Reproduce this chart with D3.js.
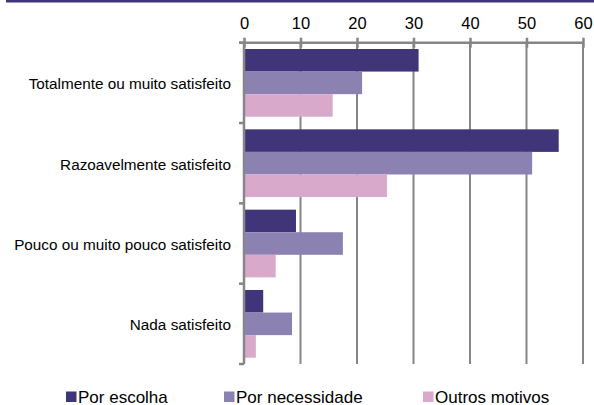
<!DOCTYPE html>
<html lang="pt">
<head>
<meta charset="utf-8">
<title>Satisfação</title>
<script src="https://d3js.org/d3.v7.min.js"></script>
<style>
  body { margin: 0; background: #fff; }
  svg { display: block; font-family: "Liberation Sans", Arial, sans-serif; }
</style>
</head>
<body>
<div id="chart"></div>
<script>
// data
var categories = ["Totalmente ou muito satisfeito", "Razoavelmente satisfeito",
                  "Pouco ou muito pouco satisfeito", "Nada satisfeito"];
var seriesNames = ["Por escolha", "Por necessidade", "Outros motivos"];
var porEscolha = [30.9, 55.7, 9.2, 3.4];
var porNecessidade = [20.9, 51.0, 17.5, 8.5];
var outrosMotivos = [15.7, 25.3, 5.6, 2.1];
var tickValues = [0, 10, 20, 30, 40, 50, 60];
var colors = ["#403578", "#8c82b2", "#d9a9cb"];

var width = 594, height = 405;
var plotLeft = 244, plotRight = 583, plotTop = 42.7, plotBottom = 364;

var svg = d3.select("#chart").append("svg")
  .attr("width", width)
  .attr("height", height);

// thin band at the very top
svg.append("rect")
  .attr("x", 6).attr("y", 0)
  .attr("width", width - 6).attr("height", 2.5)
  .attr("fill", "#403578");

var x = d3.scaleLinear().domain([0, 60]).range([plotLeft, plotRight]);

var y = d3.scaleBand().domain(categories)
  .range([plotTop, plotBottom])
  .paddingInner(0.157)
  .paddingOuter(0.0785);

var ySub = d3.scaleBand().domain(seriesNames).range([0, y.bandwidth()]);

var values = [porEscolha, porNecessidade, outrosMotivos];

// vertical gridlines
svg.append("g").selectAll("line")
  .data(tickValues.slice(1))
  .enter().append("line")
    .attr("x1", function(d) { return x(d); })
    .attr("x2", function(d) { return x(d); })
    .attr("y1", plotTop)
    .attr("y2", plotBottom)
    .attr("stroke", "#868686")
    .attr("stroke-width", 2);

// bars
seriesNames.forEach(function(name, s) {
  svg.append("g").selectAll("rect")
    .data(categories)
    .enter().append("rect")
      .attr("x", x(0) + 1)
      .attr("y", function(c) { return y(c) + ySub(name); })
      .attr("width", function(c, i) { return x(values[s][i]) - x(0) - 1; })
      .attr("height", ySub.bandwidth())
      .attr("fill", colors[s]);
});

// top axis
var xAxis = d3.axisTop(x).tickValues(tickValues).tickSize(5).tickSizeOuter(0);
var gx = svg.append("g").attr("transform", "translate(0," + plotTop + ")").call(xAxis);
gx.select(".domain").attr("stroke", "#868686").attr("stroke-width", 2.5)
  .attr("d", "M" + (plotLeft - 5) + ",0H" + plotRight);
gx.selectAll(".tick line").attr("stroke", "#868686").attr("stroke-width", 2.5)
  .attr("y1", -5).attr("y2", 5);
gx.selectAll(".tick text")
  .attr("y", -13.5)
  .attr("dy", 0)
  .attr("fill", "#000")
  .style("font-size", "16.5px")
  .style("font-family", "Liberation Sans, Arial, sans-serif");

// left axis line with ticks at category boundaries
svg.append("line")
  .attr("x1", plotLeft).attr("x2", plotLeft)
  .attr("y1", plotTop).attr("y2", plotBottom)
  .attr("stroke", "#868686").attr("stroke-width", 2.5);

var step = y.step();
svg.append("g").selectAll("line")
  .data(d3.range(categories.length + 1))
  .enter().append("line")
    .attr("x1", plotLeft - 5).attr("x2", plotLeft)
    .attr("y1", function(i) { return plotTop + i * step; })
    .attr("y2", function(i) { return plotTop + i * step; })
    .attr("stroke", "#868686").attr("stroke-width", 2.5);

// category labels
svg.append("g").selectAll("text")
  .data(categories)
  .enter().append("text")
    .attr("x", 231)
    .attr("y", function(c) { return y(c) + y.bandwidth() / 2 + 1; })
    .attr("dy", "0.35em")
    .attr("text-anchor", "end")
    .style("font-size", "15.3px")
    .attr("fill", "#000")
    .text(function(c) { return c; });

// legend
var legendX = [66, 224, 423];
var legend = svg.append("g").selectAll("g")
  .data(seriesNames)
  .enter().append("g")
    .attr("transform", function(d, i) { return "translate(" + legendX[i] + ",391.5)"; });
legend.append("rect")
  .attr("width", 10.5).attr("height", 10.5)
  .attr("fill", function(d, i) { return colors[i]; });
legend.append("text")
  .attr("x", 12)
  .attr("y", 11)
  .style("font-size", "17px")
  .attr("fill", "#000")
  .text(function(d) { return d; });
</script>
</body>
</html>
